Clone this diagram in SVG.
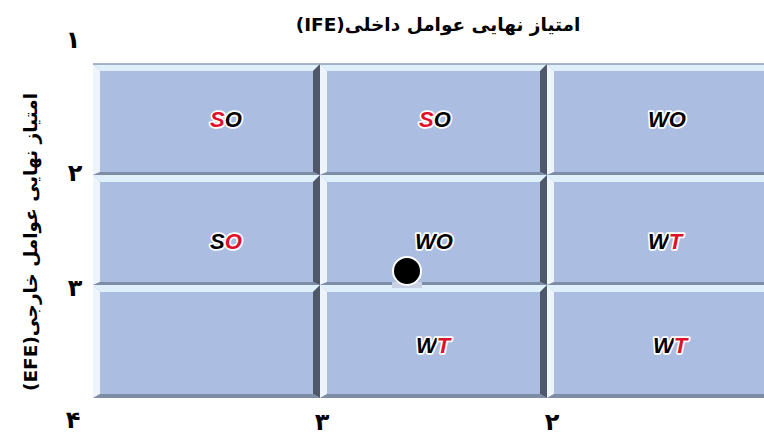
<svg xmlns="http://www.w3.org/2000/svg" width="764" height="435" viewBox="0 0 764 435">
<style>
.face{fill:#abbde1}
.bt{fill:#e0f0fa}
.bl{fill:#eef4fb}
.br{fill:#4f5869}
.bb{fill:#7f8ca5}
.tl{stroke:#8e9bb0;stroke-width:1.5}
.lab{font-family:"Liberation Sans",Arial,sans-serif;font-style:italic;font-weight:bold;font-size:22px;text-anchor:middle;stroke:#ffffff;stroke-width:3.5;stroke-linejoin:round;paint-order:stroke}
.k{fill:#000000}
.r{fill:#e0102a}
.axis{font-family:"DejaVu Sans",sans-serif;font-weight:bold;font-size:18.5px;fill:#000;text-anchor:middle;direction:rtl}
.num{font-family:"DejaVu Sans",sans-serif;font-weight:bold;font-size:24px;fill:#000;text-anchor:middle}
</style>
<rect width="764" height="435" fill="#ffffff"/>

<g id="cell-r1c1">
<rect class="face" x="93" y="64" width="227" height="111"/>
<polygon class="bt" points="93,64 320,64 313,71 100,71"/>
<polygon class="bl" points="93,64 100,71 100,172 93,175"/>
<polygon class="br" points="320,64 320,175 313,172 313,71"/>
<polygon class="bb" points="93,175 320,175 313,172 100,172"/>
<line class="tl" x1="93" y1="64" x2="320" y2="64"/>
<text class="lab" x="226" y="127"><tspan class="r">S</tspan><tspan class="k">O</tspan></text>
</g>
<g id="cell-r1c2">
<rect class="face" x="320" y="64" width="227" height="111"/>
<polygon class="bt" points="320,64 547,64 540,71 327,71"/>
<polygon class="bl" points="320,64 327,71 327,172 320,175"/>
<polygon class="br" points="547,64 547,175 540,172 540,71"/>
<polygon class="bb" points="320,175 547,175 540,172 327,172"/>
<line class="tl" x1="320" y1="64" x2="547" y2="64"/>
<text class="lab" x="435" y="127"><tspan class="r">S</tspan><tspan class="k">O</tspan></text>
</g>
<g id="cell-r1c3">
<rect class="face" x="547" y="64" width="228" height="111"/>
<polygon class="bt" points="547,64 775,64 768,71 554,71"/>
<polygon class="bl" points="547,64 554,71 554,172 547,175"/>
<polygon class="bb" points="547,175 775,175 768,172 554,172"/>
<line class="tl" x1="547" y1="64" x2="775" y2="64"/>
<text class="lab k" x="667" y="127">WO</text>
</g>

<g id="cell-r2c1">
<rect class="face" x="93" y="175" width="227" height="110"/>
<polygon class="bt" points="93,175 320,175 313,182 100,182"/>
<polygon class="bl" points="93,175 100,182 100,282 93,285"/>
<polygon class="br" points="320,175 320,285 313,282 313,182"/>
<polygon class="bb" points="93,285 320,285 313,282 100,282"/>
<text class="lab" x="226" y="249"><tspan class="k">S</tspan><tspan class="r">O</tspan></text>
</g>
<g id="cell-r2c2">
<rect class="face" x="320" y="175" width="227" height="110"/>
<polygon class="bt" points="320,175 547,175 540,182 327,182"/>
<polygon class="bl" points="320,175 327,182 327,282 320,285"/>
<polygon class="br" points="547,175 547,285 540,282 540,182"/>
<polygon class="bb" points="320,285 547,285 540,282 327,282"/>
<text class="lab k" x="434" y="249">WO</text>
</g>
<g id="cell-r2c3">
<rect class="face" x="547" y="175" width="228" height="110"/>
<polygon class="bt" points="547,175 775,175 768,182 554,182"/>
<polygon class="bl" points="547,175 554,182 554,282 547,285"/>
<polygon class="bb" points="547,285 775,285 768,282 554,282"/>
<text class="lab" x="665" y="249"><tspan class="k">W</tspan><tspan class="r">T</tspan></text>
</g>

<g id="cell-r3c1">
<rect class="face" x="93" y="285" width="227" height="113"/>
<polygon class="bt" points="93,285 320,285 313,292 100,292"/>
<polygon class="bl" points="93,285 100,292 100,394 93,398"/>
<polygon class="br" points="320,285 320,398 313,394 313,292"/>
<polygon class="bb" points="93,398 320,398 313,394 100,394"/>
</g>
<g id="cell-r3c2">
<rect class="face" x="320" y="285" width="227" height="113"/>
<polygon class="bt" points="320,285 547,285 540,292 327,292"/>
<polygon class="bl" points="320,285 327,292 327,394 320,398"/>
<polygon class="br" points="547,285 547,398 540,394 540,292"/>
<polygon class="bb" points="320,398 547,398 540,394 327,394"/>
<text class="lab" x="433" y="353"><tspan class="k">W</tspan><tspan class="r">T</tspan></text>
</g>
<g id="cell-r3c3">
<rect class="face" x="547" y="285" width="228" height="113"/>
<polygon class="bt" points="547,285 775,285 768,292 554,292"/>
<polygon class="bl" points="547,285 554,292 554,394 547,398"/>
<polygon class="bb" points="547,398 775,398 768,394 554,394"/>
<text class="lab" x="670" y="353"><tspan class="k">W</tspan><tspan class="r">T</tspan></text>
</g>

<g id="connectors"></g>

<g id="point">
<rect x="392" y="282" width="30" height="6" fill="#c9d2e4"/>
<circle cx="407" cy="271" r="14" fill="#000000" stroke="#ffffff" stroke-width="2"/>
</g>

<g id="axis-top">
<text class="axis" x="438" y="31">امتیاز نهایی عوامل داخلی(IFE)</text>
</g>
<g id="axis-left">
<text class="axis" transform="translate(37,242) rotate(-90)" x="0" y="0">امتیاز نهایی عوامل خارجی(EFE)</text>
</g>
<g id="ticks">
<text class="num" x="73" y="48">۱</text>
<text class="num" x="75" y="181">۲</text>
<text class="num" x="75" y="296">۳</text>
<text class="num" x="73" y="428">۴</text>
<text class="num" x="322" y="430">۳</text>
<text class="num" x="552" y="430">۲</text>
</g>
</svg>
